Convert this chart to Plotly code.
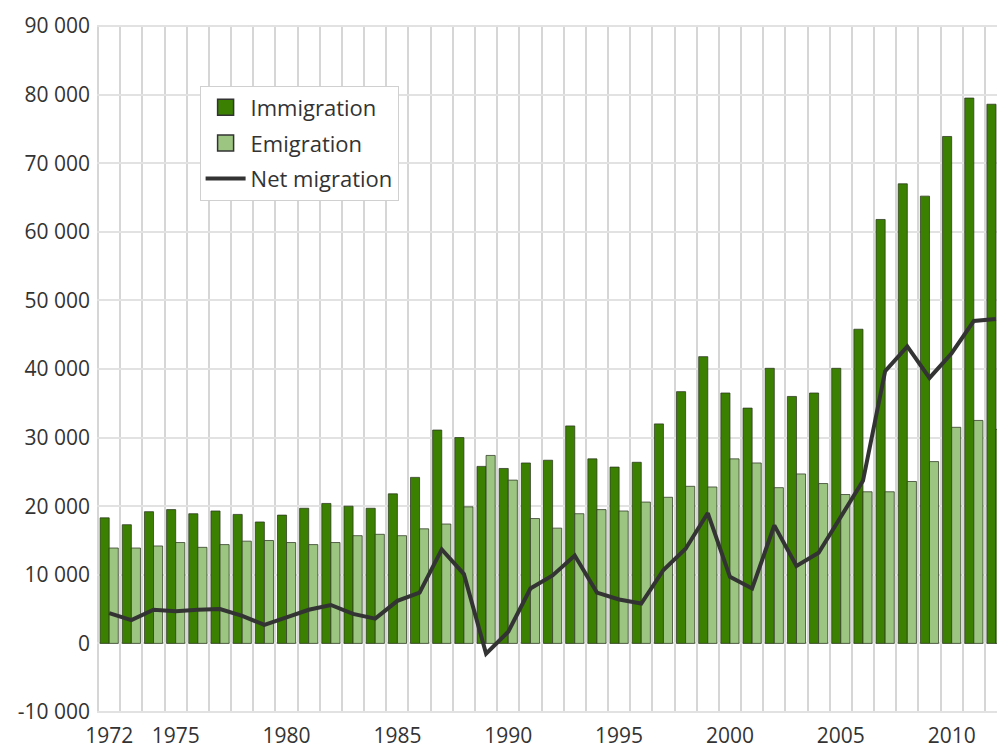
import plotly.graph_objects as go

years = list(range(1972, 2013))
immigration = [18300, 17300, 19200, 19500, 18900, 19300, 18800, 17700, 18700, 19700,
               20400, 20000, 19700, 21800, 24200, 31100, 30000, 25800, 25500, 26300,
               26700, 31700, 26900, 25700, 26400, 32000, 36700, 41800, 36500, 34300,
               40100, 36000, 36500, 40100, 45800, 61800, 67000, 65200, 73900, 79500, 78600]
emigration = [13900, 13900, 14200, 14700, 14000, 14400, 14900, 15000, 14700, 14400,
              14700, 15700, 15900, 15700, 16700, 17400, 19900, 27400, 23800, 18200,
              16800, 18900, 19500, 19300, 20600, 21300, 22900, 22800, 26900, 26300,
              22700, 24700, 23300, 21700, 22100, 22100, 23600, 26500, 31500, 32500, 31200]
net_migration = [4400, 3400, 4900, 4700, 4900, 5000, 4000, 2700, 3800, 4900,
                  5600, 4300, 3600, 6200, 7400, 13700, 10100, -1500, 1700, 8000,
                  9900, 12800, 7400, 6400, 5800, 10700, 13800, 19000, 9700, 8000,
                  17200, 11300, 13200, 18400, 23700, 39700, 43300, 38700, 42300, 47000, 47300]
x_tick_years = [1972, 1975, 1980, 1985, 1990, 1995, 2000, 2005, 2010]
y_tick_values = [-10000, 0, 10000, 20000, 30000, 40000, 50000, 60000, 70000, 80000, 90000]
y_tick_labels = ["-10 000", "0", "10 000", "20 000", "30 000", "40 000",
                 "50 000", "60 000", "70 000", "80 000", "90 000"]

IMM = "#3b8000"
EMI = "#9dc582"
NET = "#333333"
OUTLINE = "rgba(45,55,35,0.75)"

fig = go.Figure()
fig.add_bar(x=years, y=immigration, name="Immigration", legendgroup="imm", showlegend=False,
            marker=dict(color=IMM, line=dict(color=OUTLINE, width=1)))
fig.add_bar(x=years, y=emigration, name="Emigration", legendgroup="emi", showlegend=False,
            marker=dict(color=EMI, line=dict(color=OUTLINE, width=1)))
fig.add_scatter(x=years, y=net_migration, name="Net migration", legendgroup="net",
                mode="lines", line=dict(color=NET, width=4), legendrank=3)
# legend entries for the bars (larger square swatches)
fig.add_scatter(x=[None], y=[None], name="Immigration", legendgroup="imm", mode="markers",
                marker=dict(symbol="square", size=16, color=IMM, line=dict(color="#333", width=1.5)),
                legendrank=1)
fig.add_scatter(x=[None], y=[None], name="Emigration", legendgroup="emi", mode="markers",
                marker=dict(symbol="square", size=16, color=EMI, line=dict(color="#333", width=1.5)),
                legendrank=2)

fig.update_layout(
    width=997, height=749,
    margin=dict(l=97, r=0, t=25, b=36, pad=0),
    paper_bgcolor="white", plot_bgcolor="white",
    font=dict(family="Open Sans", size=21, color="#333333"),
    barmode="group", bargap=0.18, bargroupgap=0,
    showlegend=True,
    legend=dict(x=0.114, y=0.912, xanchor="left", yanchor="top",
                bgcolor="white", bordercolor="#d0d0d0", borderwidth=1,
                font=dict(size=22, color="#333333"), itemwidth=40,
                tracegroupgap=4, traceorder="grouped"),
    xaxis=dict(range=[1971.45, 2012.045], tickmode="array", tickvals=x_tick_years,
               ticktext=[str(v) for v in x_tick_years], showgrid=False, zeroline=False,
               showline=False, ticks="", ticklabelstandoff=8,
               minor=dict(tickmode="linear", tick0=1971.5, dtick=1, showgrid=True,
                          gridcolor="#d6d6d6", gridwidth=1.5, ticks="")),
    yaxis=dict(range=[-10150, 90150], tickmode="array", tickvals=y_tick_values,
               ticktext=y_tick_labels, showgrid=True, gridcolor="#e2e2e2", gridwidth=1.5,
               zeroline=False, showline=False, ticks="", ticklabelstandoff=6),
)

fig.write_html("out.html", config={"displayModeBar": False},
               post_script="document.body.style.margin='0px';document.body.style.overflow='hidden';")
